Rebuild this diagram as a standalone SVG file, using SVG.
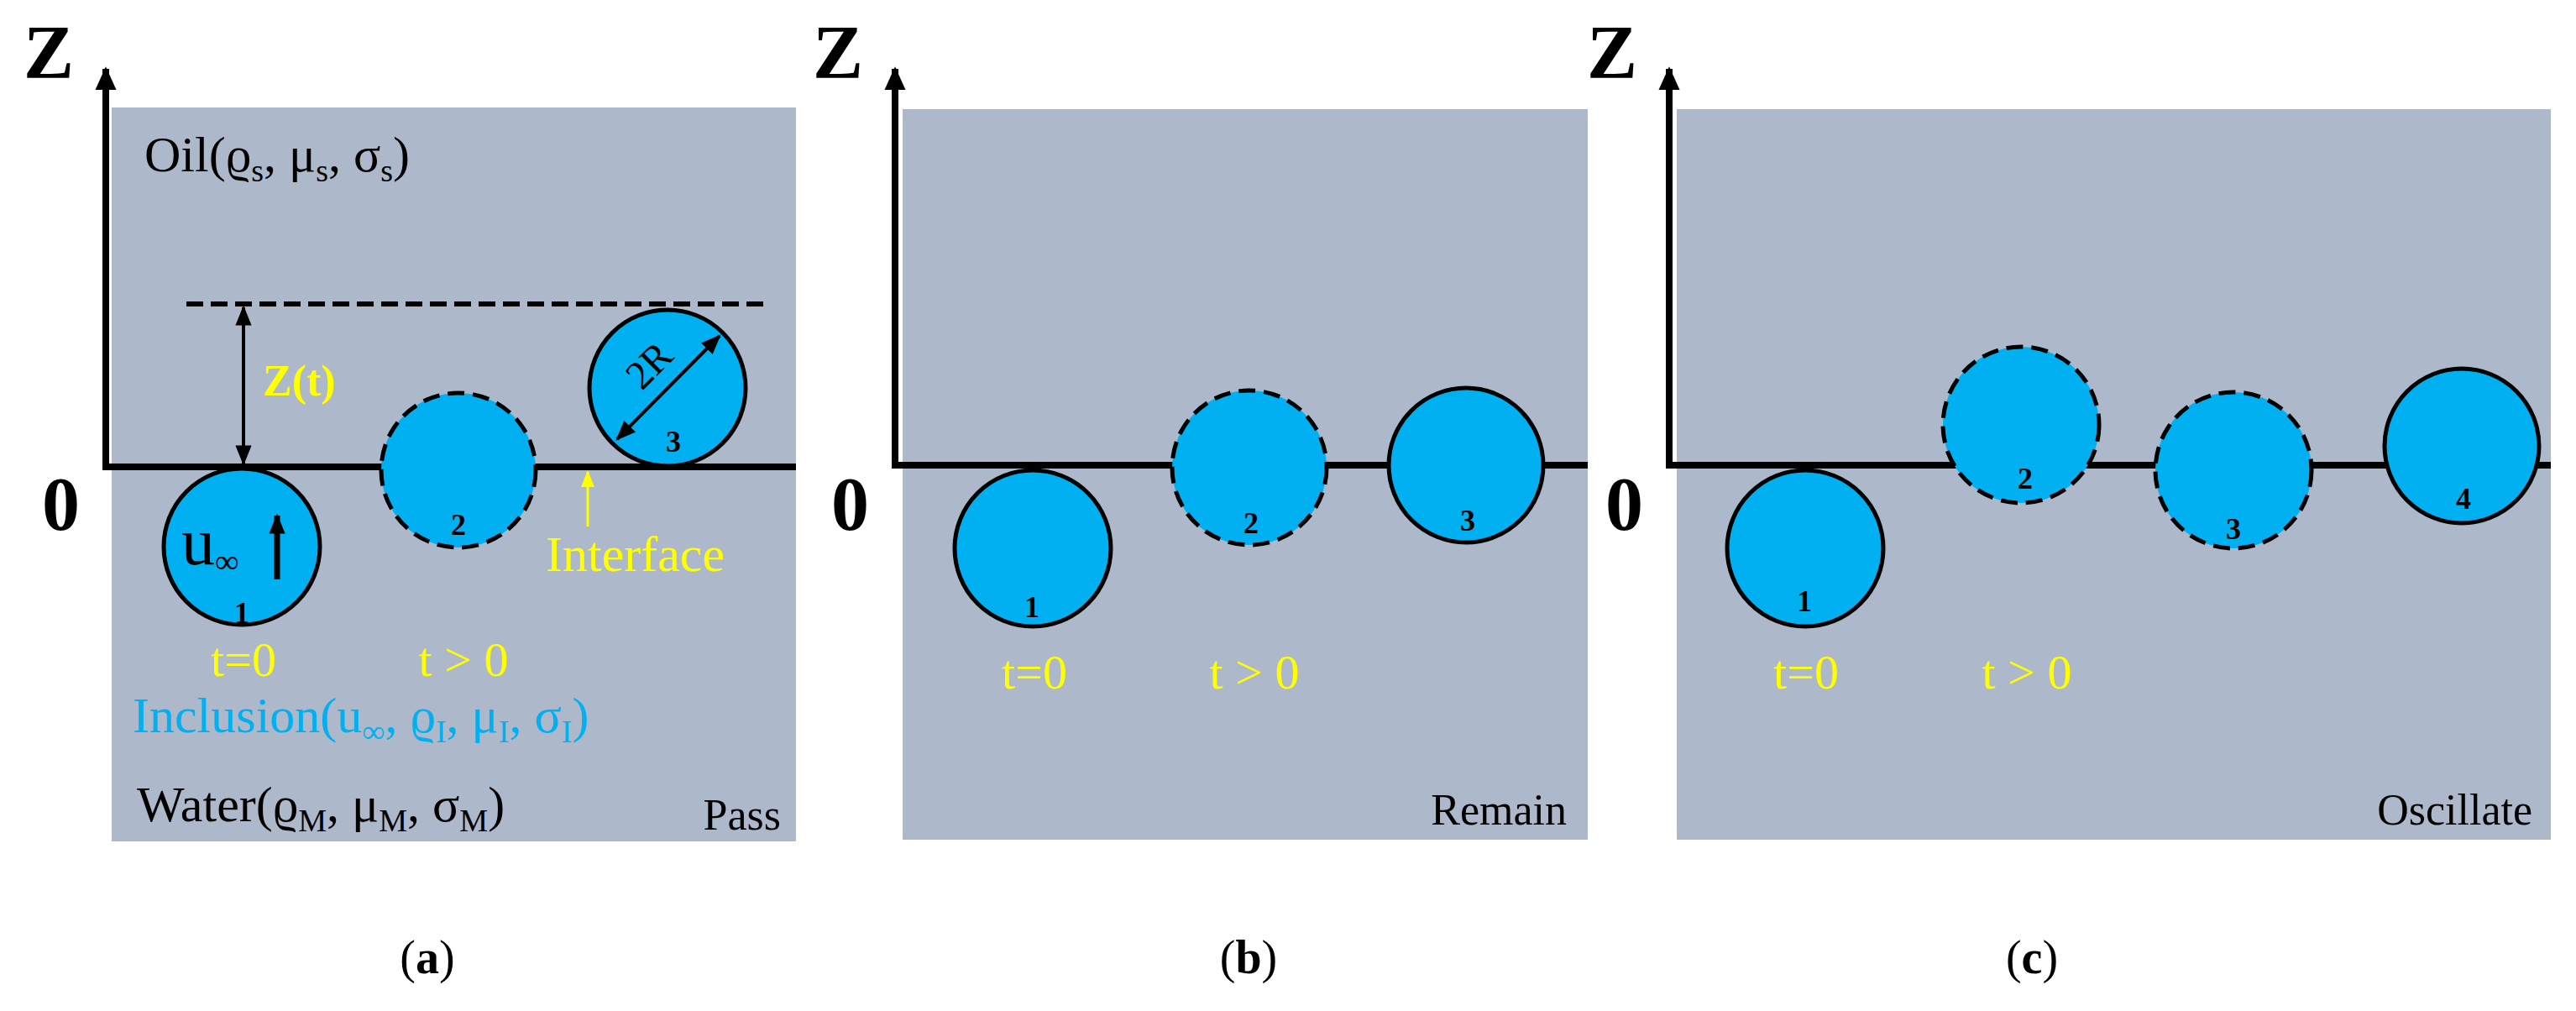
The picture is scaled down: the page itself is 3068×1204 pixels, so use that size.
<svg xmlns="http://www.w3.org/2000/svg" width="3068" height="1204" viewBox="0 0 3068 1204">
<defs>
<marker id="ah" viewBox="0 0 10 10" refX="9" refY="5" markerWidth="5" markerHeight="5" orient="auto-start-reverse" markerUnits="userSpaceOnUse" style="overflow:visible"><path d="M0,0 L10,5 L0,10 z" fill="#000"/></marker>
<marker id="axh" viewBox="0 0 10 10" refX="9" refY="5" markerWidth="28" markerHeight="28" orient="auto" markerUnits="userSpaceOnUse"><path d="M0,0.5 L10,5 L0,9.5 z" fill="#000"/></marker>
<marker id="sh" viewBox="0 0 10 10" refX="9" refY="5" markerWidth="24" markerHeight="24" orient="auto-start-reverse" markerUnits="userSpaceOnUse"><path d="M0,1 L10,5 L0,9 z" fill="#000"/></marker>
<marker id="yh" viewBox="0 0 10 10" refX="9" refY="5" markerWidth="20" markerHeight="20" orient="auto" markerUnits="userSpaceOnUse"><path d="M0,1 L10,5 L0,9 z" fill="#ffff00"/></marker>
</defs>
<style>
.panel{fill:#adb8ca}
.axis{fill:none;stroke:#000;stroke-width:8}
.drop{fill:#00b0f0;stroke:#000;stroke-width:5}
.dash{stroke-dasharray:20 10}
text{font-family:"Liberation Serif","DejaVu Serif",serif}
.big{font-size:90px;font-weight:bold}
.num{font-size:36px;font-weight:bold;text-anchor:middle}
.t{font-size:58px;fill:#ffff00;text-anchor:middle}
.lab{font-size:60px}
.cap{font-size:56px;text-anchor:middle}
.end{font-size:52px;text-anchor:end}
</style>
<rect width="3068" height="1204" fill="#fff"/>
<!-- Panel a -->
<g id="panel-a">
<rect class="panel" x="133" y="128" width="815" height="874"/>
<path class="axis" d="M126,556 V82" marker-end="url(#axh)"/>
<line x1="122" y1="556" x2="948" y2="556" stroke="#000" stroke-width="8"/>
<text class="big" x="28" y="93">Z</text>
<text class="big" x="50" y="631">0</text>
<text class="lab" x="172" y="204">Oil(ϱ<tspan font-size="38" dy="12">s</tspan><tspan dy="-12">, μ</tspan><tspan font-size="38" dy="12">s</tspan><tspan dy="-12">, σ</tspan><tspan font-size="38" dy="12">s</tspan><tspan dy="-12">)</tspan></text>
<line x1="222" y1="362" x2="912" y2="362" stroke="#000" stroke-width="6" stroke-dasharray="20 9"/>
<line x1="290" y1="366" x2="290" y2="552" stroke="#000" stroke-width="4" marker-start="url(#sh)" marker-end="url(#sh)"/>
<text x="313" y="471" font-size="52" font-weight="bold" fill="#ffff00">Z(t)</text>
<g id="a-drop1"><circle class="drop" cx="288" cy="651" r="93"/>
<text x="216" y="672" font-size="80">u<tspan font-size="40" dy="10">∞</tspan></text>
<line x1="330" y1="690" x2="330" y2="614" stroke="#000" stroke-width="7" marker-end="url(#sh)"/>
<text class="num" x="288" y="742">1</text></g>
<g id="a-drop2"><circle class="drop dash" cx="546" cy="560" r="92"/><text class="num" x="546" y="637">2</text></g>
<g id="a-drop3"><circle class="drop" cx="795" cy="462" r="93"/>
<line x1="735" y1="523" x2="857" y2="400" stroke="#000" stroke-width="4" marker-start="url(#sh)" marker-end="url(#sh)"/>
<text x="775" y="450" font-size="48" text-anchor="middle" transform="rotate(-45 775 437)">2R</text>
<text class="num" x="802" y="538">3</text></g>
<line x1="700" y1="627" x2="700" y2="562" stroke="#ffff00" stroke-width="3" marker-end="url(#yh)"/>
<text x="650" y="680" font-size="60" fill="#ffff00">Interface</text>
<text class="t" x="290" y="805">t=0</text>
<text class="t" x="552" y="805">t &gt; 0</text>
<text class="lab" x="158" y="872" fill="#00b0f0">Inclusion(u<tspan font-size="38" dy="12">∞</tspan><tspan dy="-12">, ϱ</tspan><tspan font-size="38" dy="12">I</tspan><tspan dy="-12">, μ</tspan><tspan font-size="38" dy="12">I</tspan><tspan dy="-12">, σ</tspan><tspan font-size="38" dy="12">I</tspan><tspan dy="-12">)</tspan></text>
<text class="lab" x="163" y="978">Water(ϱ<tspan font-size="38" dy="12">M</tspan><tspan dy="-12">, μ</tspan><tspan font-size="38" dy="12">M</tspan><tspan dy="-12">, σ</tspan><tspan font-size="38" dy="12">M</tspan><tspan dy="-12">)</tspan></text>
<text class="end" x="930" y="988">Pass</text>
<text class="cap" x="509" y="1159">(<tspan font-weight="bold">a</tspan>)</text>
</g>
<!-- Panel b -->
<g id="panel-b">
<rect class="panel" x="1075" y="130" width="816" height="870"/>
<path class="axis" d="M1066,554 V82" marker-end="url(#axh)"/>
<line x1="1062" y1="554" x2="1891" y2="554" stroke="#000" stroke-width="8"/>
<text class="big" x="968" y="93">Z</text>
<text class="big" x="990" y="631">0</text>
<g id="b-drop1"><circle class="drop" cx="1230" cy="653" r="93"/><text class="num" x="1229" y="735">1</text></g>
<g id="b-drop2"><circle class="drop dash" cx="1488" cy="557" r="92"/><text class="num" x="1490" y="635">2</text></g>
<g id="b-drop3"><circle class="drop" cx="1746" cy="554" r="92"/><text class="num" x="1748" y="632">3</text></g>
<text class="t" x="1232" y="820">t=0</text>
<text class="t" x="1494" y="820">t &gt; 0</text>
<text class="end" x="1866" y="982">Remain</text>
<text class="cap" x="1487" y="1159">(<tspan font-weight="bold">b</tspan>)</text>
</g>
<!-- Panel c -->
<g id="panel-c">
<rect class="panel" x="1997" y="130" width="1041" height="870"/>
<path class="axis" d="M1988,554 V82" marker-end="url(#axh)"/>
<line x1="1984" y1="554" x2="3038" y2="554" stroke="#000" stroke-width="8"/>
<text class="big" x="1890" y="93">Z</text>
<text class="big" x="1912" y="631">0</text>
<g id="c-drop1"><circle class="drop" cx="2150" cy="653" r="93"/><text class="num" x="2149" y="728">1</text></g>
<g id="c-drop2"><circle class="drop dash" cx="2407" cy="506" r="93"/><text class="num" x="2412" y="582">2</text></g>
<g id="c-drop3"><circle class="drop dash" cx="2660" cy="560" r="93"/><text class="num" x="2660" y="642">3</text></g>
<g id="c-drop4"><circle class="drop" cx="2932" cy="531" r="92"/><text class="num" x="2934" y="606">4</text></g>
<text class="t" x="2151" y="820">t=0</text>
<text class="t" x="2414" y="820">t &gt; 0</text>
<text class="end" x="3016" y="982">Oscillate</text>
<text class="cap" x="2420" y="1159">(<tspan font-weight="bold">c</tspan>)</text>
</g>
</svg>
